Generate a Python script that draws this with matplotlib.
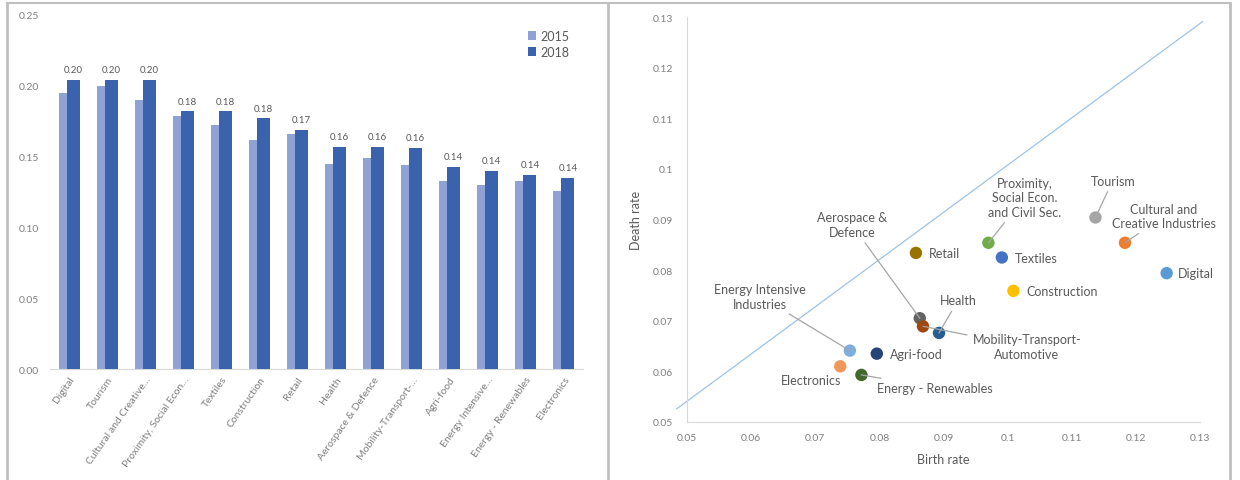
"""Business birth/death rates by ecosystem: bar chart + scatter."""

import matplotlib.pyplot as plt
from matplotlib.lines import Line2D
import numpy as np

plt.rcParams["font.family"] = ["Lato", "DejaVu Sans"]

# ---- left panel data ----
categories = [
    "Digital", "Tourism", "Cultural and Creative…", "Proximity, Social Econ…",
    "Textiles", "Construction", "Retail", "Health", "Aerospace & Defence",
    "Mobility-Transport-…", "Agri-food", "Energy Intensive…",
    "Energy - Renewables", "Electronics",
]
rate_2015 = [0.195, 0.200, 0.190, 0.179, 0.172, 0.162, 0.166,
             0.145, 0.149, 0.144, 0.133, 0.130, 0.133, 0.126]
rate_2018 = [0.204, 0.204, 0.204, 0.182, 0.182, 0.177, 0.169,
             0.157, 0.157, 0.156, 0.143, 0.140, 0.137, 0.135]

# ---- right panel data ----
sectors = [
    "Digital", "Cultural and\nCreative Industries", "Tourism",
    "Proximity,\nSocial Econ.\nand Civil Sec.", "Textiles", "Construction",
    "Retail", "Aerospace &\nDefence", "Health", "Mobility-Transport-\nAutomotive",
    "Agri-food", "Energy Intensive\nIndustries", "Electronics",
    "Energy - Renewables",
]
birth_rate = [0.1248, 0.1183, 0.1137, 0.0970, 0.0991, 0.1009, 0.0857,
              0.0863, 0.0893, 0.0868, 0.0796, 0.0754, 0.0739, 0.0772]
death_rate = [0.0794, 0.0854, 0.0904, 0.0854, 0.0825, 0.0759, 0.0834,
              0.0705, 0.0676, 0.0689, 0.0635, 0.0641, 0.0610, 0.0593]
sector_colors = ["#5B9BD5", "#ED7D31", "#A5A5A5", "#70AD47", "#4472C4", "#FFC000",
                 "#997300", "#636363", "#255E91", "#9E480E", "#264478", "#7CAFDD",
                 "#F1975A", "#43682B"]
# label placement: (x, y, ha, leader line?)
label_pos = [
    (0.1266, 0.0794, "left", False),
    (0.1244, 0.0907, "center", True),
    (0.1164, 0.0977, "center", True),
    (0.1027, 0.0944, "center", True),
    (0.1011, 0.0824, "left", False),
    (0.1029, 0.0759, "left", False),
    (0.0877, 0.0834, "left", False),
    (0.0757, 0.0890, "center", True),
    (0.0923, 0.0741, "center", True),
    (0.1030, 0.0649, "center", True),
    (0.0817, 0.0634, "left", False),
    (0.0614, 0.0748, "center", True),
    (0.0694, 0.0582, "center", False),
    (0.0796, 0.0568, "left", True),
]
trend_x = [0.0484, 0.1304]
trend_y = [0.0526, 0.1291]

TICK_C = "#7F7F7F"
TEXT_C = "#595959"
AXIS_C = "#D9D9D9"

fig = plt.figure(figsize=(12.4, 4.81), dpi=100)

# panel frames
for x0, x1 in [(7, 607), (610, 1230)]:
    fig.add_artist(Line2D([x0 / 1240, x1 / 1240], [1 - 4 / 481, 1 - 4 / 481],
                          color="#BFBFBF", lw=1.5, transform=fig.transFigure))
for xv in [7, 608, 1230]:
    fig.add_artist(Line2D([xv / 1240, xv / 1240], [0, 1 - 4 / 481],
                          color="#BFBFBF", lw=2, transform=fig.transFigure))

# ---- left: grouped bars ----
ax1 = fig.add_axes([50 / 1240, 1 - 370 / 481, 533 / 1240, 354 / 481])
x = np.arange(len(categories))
w = 0.34
ax1.bar(x - 0.105, rate_2015, w, color="#8FA2D4", label="2015", zorder=2)
b2 = ax1.bar(x + 0.105, rate_2018, w, color="#3B63AD", label="2018", zorder=3)
for rect, v in zip(b2, rate_2018):
    ax1.text(rect.get_x() + rect.get_width() / 2, v + 0.004, f"{v:.2f}",
             ha="center", va="bottom", fontsize=7, color=TEXT_C)
ax1.set_xlim(-0.5, len(categories) - 0.5)
ax1.set_ylim(0, 0.25)
ax1.set_yticks(np.arange(0, 0.26, 0.05))
ax1.set_yticklabels([f"{t:.2f}" for t in np.arange(0, 0.26, 0.05)])
ax1.set_xticks(x)
ax1.set_xticklabels(categories, rotation=55, ha="right", rotation_mode="anchor")
ax1.tick_params(axis="both", length=0, labelsize=7.5, labelcolor=TICK_C)
ax1.tick_params(axis="y", pad=8)
ax1.tick_params(axis="x", pad=4)
for s in ["top", "right", "left"]:
    ax1.spines[s].set_visible(False)
ax1.spines["bottom"].set_color(AXIS_C)
ax1.legend(loc="upper right", bbox_to_anchor=(0.995, 0.99), frameon=False,
           fontsize=9, handlelength=0.7, handleheight=0.7, handletextpad=0.3,
           labelcolor=TEXT_C, labelspacing=0.3)

# ---- right: scatter ----
ax2 = fig.add_axes([687 / 1240, 1 - 423 / 481, 513 / 1240, 405 / 481])
ax2.plot(trend_x, trend_y, color="#9DC3E6", lw=0.9, clip_on=False, zorder=1)
ax2.scatter(birth_rate, death_rate, s=80, c=sector_colors, zorder=3,
            edgecolors="none")
for name, bx, dy, (lx, ly, ha, lead) in zip(sectors, birth_rate, death_rate, label_pos):
    if lead:
        ax2.annotate(name, xy=(bx, dy), xytext=(lx, ly), ha=ha, va="center",
                     fontsize=9, color=TEXT_C, linespacing=1.25,
                     arrowprops=dict(arrowstyle="-", color="#A6A6A6", lw=0.9,
                                     shrinkA=2, shrinkB=0))
    else:
        ax2.text(lx, ly, name, ha=ha, va="center", fontsize=9, color=TEXT_C)
ax2.set_xlim(0.05, 0.13)
ax2.set_ylim(0.05, 0.13)
ticks = np.round(np.arange(0.05, 0.131, 0.01), 2)
ax2.set_xticks(ticks)
ax2.set_yticks(ticks)
ax2.set_xticklabels([f"{t:g}" for t in ticks])
ax2.set_yticklabels([f"{t:g}" for t in ticks])
ax2.tick_params(axis="both", length=0, labelsize=7.5, labelcolor=TICK_C)
ax2.tick_params(axis="x", pad=8)
ax2.tick_params(axis="y", pad=10)
for s in ["top", "right"]:
    ax2.spines[s].set_visible(False)
for s in ["left", "bottom"]:
    ax2.spines[s].set_color(AXIS_C)
ax2.set_xlabel("Birth rate", fontsize=9, color=TEXT_C, labelpad=8)
ax2.set_ylabel("Death rate", fontsize=9, color=TEXT_C, labelpad=8)

fig.savefig("out.png", dpi=100)
